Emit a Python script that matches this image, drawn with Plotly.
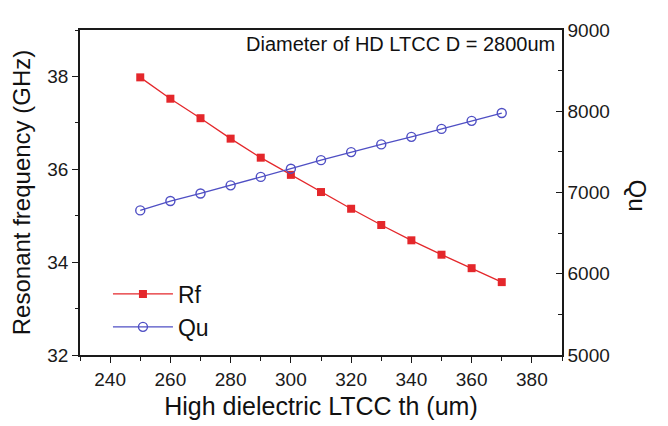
import plotly.graph_objects as go

thickness = [250, 260, 270, 280, 290, 300, 310, 320, 330, 340, 350, 360, 370]
rf_ghz = [37.98, 37.52, 37.10, 36.66, 36.25, 35.88, 35.51, 35.15, 34.80, 34.47, 34.16, 33.87, 33.57]
qu = [6780, 6895, 6988, 7088, 7192, 7293, 7398, 7497, 7592, 7685, 7783, 7882, 7978]

x_ticks = [240, 260, 280, 300, 320, 340, 360, 380]
left_ticks = [32, 34, 36, 38]
right_ticks = [5000, 6000, 7000, 8000, 9000]

RED = "#e4272b"
BLUE = "#4f4fc4"
FONT = "Arial, Liberation Sans, sans-serif"
INK = "#1a1a1a"

fig = go.Figure()
fig.add_trace(go.Scatter(
    x=thickness, y=rf_ghz, name="Rf", mode="lines+markers",
    line=dict(color=RED, width=1.3),
    marker=dict(symbol="square", size=8, color=RED),
    yaxis="y",
))
fig.add_trace(go.Scatter(
    x=thickness, y=qu, name="Qu", mode="lines+markers",
    line=dict(color=BLUE, width=1.3),
    marker=dict(symbol="circle-open", size=9, color=BLUE, line=dict(width=1.4)),
    yaxis="y2",
))

fig.update_layout(
    width=668, height=426,
    margin=dict(l=72, r=114, t=12, b=79),
    paper_bgcolor="white", plot_bgcolor="white",
    font=dict(family=FONT, color=INK),
    showlegend=True,
    legend=dict(
        x=0.058, y=0.02, xanchor="left", yanchor="bottom",
        font=dict(size=23, color="#111111", family=FONT),
        itemwidth=60, bgcolor="rgba(0,0,0,0)", tracegroupgap=0,
    ),
    xaxis=dict(
        range=[230, 390], tickvals=x_ticks,
        ticks="outside", ticklen=6, tickwidth=1.3, tickcolor=INK,
        minor=dict(dtick=10, ticks="outside", ticklen=4, tickwidth=1.2, tickcolor=INK),
        showline=True, linecolor=INK, linewidth=1.5, mirror=True,
        showgrid=False, zeroline=False,
        tickfont=dict(size=19, family=FONT, color=INK),
        title=dict(text="High dielectric LTCC th (um)", font=dict(size=25, family=FONT, color="#111"), standoff=9),
    ),
    yaxis=dict(
        range=[32, 39], tickvals=left_ticks,
        ticks="outside", ticklen=6, tickwidth=1.3, tickcolor=INK,
        minor=dict(dtick=1, ticks="outside", ticklen=3, tickwidth=1.2, tickcolor=INK),
        showline=True, linecolor=INK, linewidth=1.5,
        showgrid=False, zeroline=False,
        tickfont=dict(size=19, family=FONT, color=INK),
        title=dict(text="Resonant frequency (GHz)", font=dict(size=24, family=FONT, color="#111"), standoff=10),
    ),
    yaxis2=dict(
        range=[5000, 9000], tickvals=right_ticks, overlaying="y", side="right",
        ticks="inside", ticklen=6, tickwidth=1.3, tickcolor=INK,
        minor=dict(dtick=500, ticks="inside", ticklen=4, tickwidth=1.2, tickcolor=INK),
        showline=True, linecolor=INK, linewidth=1.5,
        showgrid=False, zeroline=False,
        tickfont=dict(size=19, family=FONT, color=INK),
    ),
    annotations=[
        dict(text="Diameter of HD LTCC D = 2800um", xref="paper", yref="paper",
             x=0.99, y=0.998, xanchor="right", yanchor="top", showarrow=False,
             font=dict(size=20, family=FONT, color="#111")),
        dict(text="Qu", xref="paper", yref="paper", x=1.156, y=0.49,
             xanchor="center", yanchor="middle", textangle=90, showarrow=False,
             font=dict(size=24, family=FONT, color="#111")),
    ],
)

fig.write_html("out.html")
